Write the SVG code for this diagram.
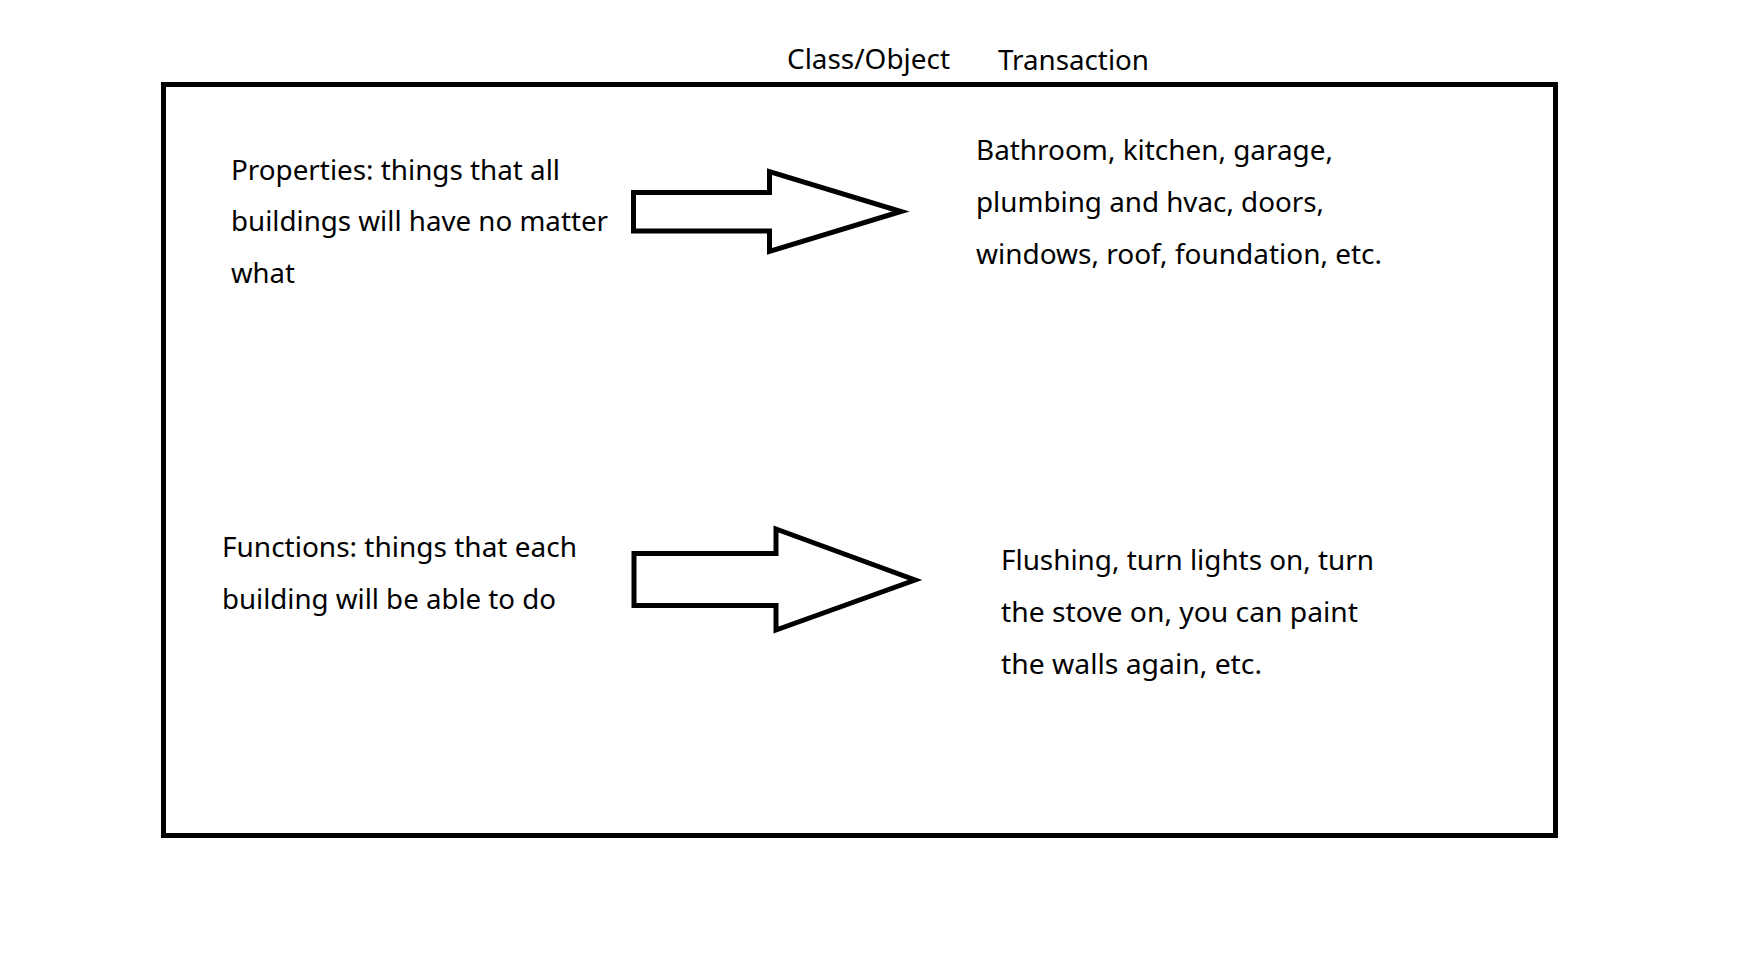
<svg xmlns="http://www.w3.org/2000/svg" width="1756" height="980" viewBox="0 0 1756 980">
<style>
  .t { font-family: "Noto Sans", "Liberation Sans", sans-serif; font-size: 27px; fill: #000; }
  .shape { fill: #fff; stroke: #000; stroke-width: 5; stroke-linejoin: miter; }
</style>
<rect width="1756" height="980" fill="#fff"/>
<g id="headers">
  <text class="t" x="787" y="68.5" textLength="163" lengthAdjust="spacingAndGlyphs">Class/Object</text>
  <text class="t" x="998" y="69.5" textLength="151" lengthAdjust="spacingAndGlyphs">Transaction</text>
</g>
<g id="frame">
  <rect class="shape" x="163.5" y="84.5" width="1392" height="751" fill="none"/>
</g>
<g id="properties">
  <text class="t" x="231" y="179.5" textLength="329" lengthAdjust="spacingAndGlyphs">Properties: things that all</text>
  <text class="t" x="231" y="231.3" textLength="377" lengthAdjust="spacingAndGlyphs">buildings will have no matter</text>
  <text class="t" x="231" y="283" textLength="64" lengthAdjust="spacingAndGlyphs">what</text>
</g>
<g id="functions">
  <text class="t" x="222" y="556.7" textLength="355" lengthAdjust="spacingAndGlyphs">Functions: things that each</text>
  <text class="t" x="222" y="608.5" textLength="334" lengthAdjust="spacingAndGlyphs">building will be able to do</text>
</g>
<g id="property-examples">
  <text class="t" x="976" y="159.5" textLength="357" lengthAdjust="spacingAndGlyphs">Bathroom, kitchen, garage,</text>
  <text class="t" x="976" y="211.5" textLength="348" lengthAdjust="spacingAndGlyphs">plumbing and hvac, doors,</text>
  <text class="t" x="976" y="263.5" textLength="406" lengthAdjust="spacingAndGlyphs">windows, roof, foundation, etc.</text>
</g>
<g id="function-examples">
  <text class="t" x="1001" y="570" textLength="373" lengthAdjust="spacingAndGlyphs">Flushing, turn lights on, turn</text>
  <text class="t" x="1001" y="622" textLength="357" lengthAdjust="spacingAndGlyphs">the stove on, you can paint</text>
  <text class="t" x="1001" y="674" textLength="261" lengthAdjust="spacingAndGlyphs">the walls again, etc.</text>
</g>
<g id="connectors">
  <polygon class="shape" points="633.5,192.5 769.5,192.5 769.5,171.5 901,211.5 769.5,251.5 769.5,231 633.5,231"/>
  <polygon class="shape" points="634,553.5 776,553.5 776,529 915,580 776,630 776,605.5 634,605.5"/>
</g>
</svg>
